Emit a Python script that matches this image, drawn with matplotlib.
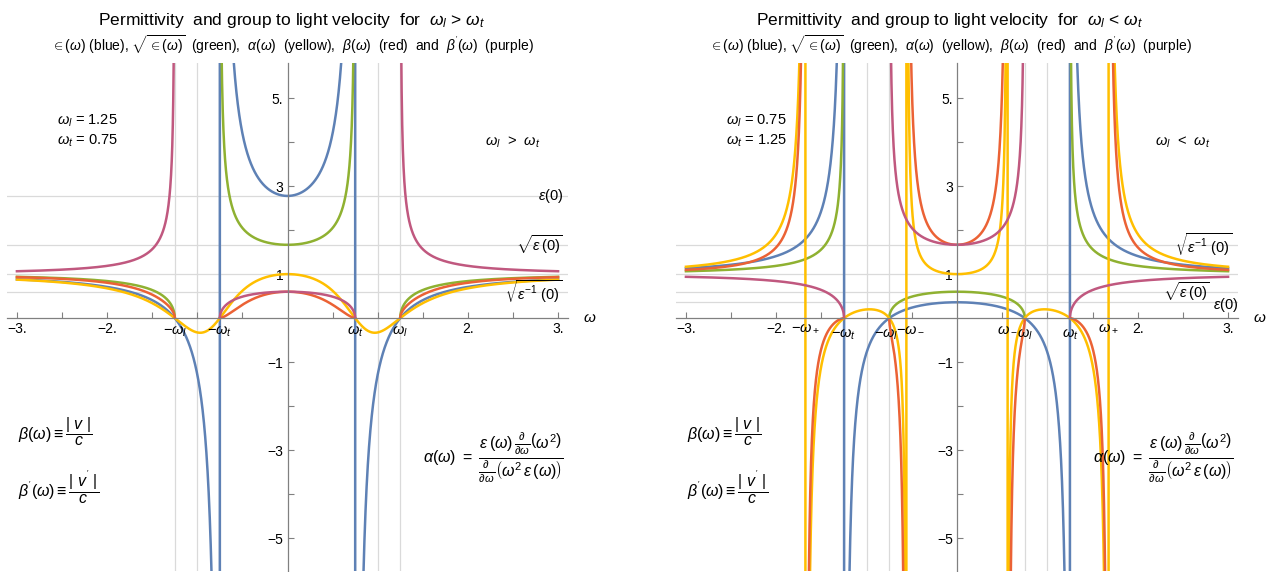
import numpy as np
import matplotlib
matplotlib.use("Agg")
import matplotlib.pyplot as plt

plt.rcParams["font.family"] = ["Liberation Sans", "DejaVu Sans"]
plt.rcParams["mathtext.fontset"] = "custom"
plt.rcParams["mathtext.rm"] = "Liberation Sans"
plt.rcParams["mathtext.it"] = "Liberation Sans:italic"
plt.rcParams["mathtext.bf"] = "Liberation Sans:bold"

# the two panels: longitudinal / transverse frequencies
omega_l = [1.25, 0.75]
omega_t = [0.75, 1.25]
relation = [">", "<"]

# omega sampled over the plot range
w = np.linspace(-3, 3, 4000)

x_ticks = [-3, -2.5, -2, -1.5, -1, -0.5, 0.5, 1, 1.5, 2, 2.5, 3]
x_labels = ["\u22123.", "", "\u22122.", "", "", "", "", "", "", "2.", "", "3."]
y_ticks = [-5, -4, -3, -2, -1, 1, 2, 3, 4, 5]
y_labels = ["\u22125", "", "\u22123", "", "\u22121", "1", "", "3", "", "5."]

BLUE = "#5E81B5"
GREEN = "#8FB131"
YELLOW = "#FFBF00"
RED = "#EB6235"
PURPLE = "#C0587F"
GRID = "#DADADA"
AXIS = "#808080"


def curves(wl, wt):
    u = w ** 2
    a, b = wl ** 2, wt ** 2
    with np.errstate(all="ignore"):
        eps = (u - a) / (u - b)
        n = np.sqrt(eps)
        alpha = (u - a) * (u - b) / (u ** 2 - 2 * b * u + a * b)
        beta = alpha / n
        beta_p = 1 / n
    return eps, n, alpha, beta, beta_p


def break_jumps(y):
    # no connecting line where the curve flips through infinity
    y = y.copy()
    flip = (np.sign(y[:-1]) != np.sign(y[1:])) & (np.abs(y[:-1]) + np.abs(y[1:]) > 20)
    y[1:][flip] = np.nan
    return y


fig = plt.figure(figsize=(12.68, 5.72), dpi=100)

ax_pos = [
    [7 / 1268, 1 / 572, 561 / 1268, 508 / 572],
    [676 / 1268, 1 / 572, 562 / 1268, 508 / 572],
]
title_x = [292, 950]

for i in range(2):
    wl, wt = omega_l[i], omega_t[i]
    ax = fig.add_axes(ax_pos[i])
    ax.set_xlim(-3.11, 3.11)
    ax.set_ylim(-5.75, 5.8)

    eps0 = wl ** 2 / wt ** 2
    for yv in [eps0, np.sqrt(eps0), 1, 1 / np.sqrt(eps0)]:
        ax.axhline(yv, color=GRID, lw=0.9, zorder=0)
    for xv in [-wl, -wt, -1, 1, wt, wl]:
        ax.axvline(xv, color=GRID, lw=0.9, zorder=0)

    eps, n, alpha, beta, beta_p = curves(wl, wt)
    ax.plot(w, eps, color=BLUE, lw=1.8)
    ax.plot(w, n, color=GREEN, lw=1.8)
    ax.plot(w, alpha, color=YELLOW, lw=1.8)
    ax.plot(w, break_jumps(beta), color=RED, lw=1.8)
    ax.plot(w, beta_p, color=PURPLE, lw=1.8)

    for s in ["top", "right"]:
        ax.spines[s].set_visible(False)
    for s in ["left", "bottom"]:
        ax.spines[s].set_position(("data", 0))
        ax.spines[s].set_color(AXIS)
        ax.spines[s].set_linewidth(0.9)
    ax.set_xticks(x_ticks)
    ax.set_xticklabels(x_labels)
    ax.set_yticks(y_ticks)
    ax.set_yticklabels(y_labels)
    ax.tick_params(direction="in", length=4, width=0.8, color=AXIS,
                   labelsize=10, pad=3)
    ax.patch.set_alpha(0)

    # omega labels on the axis
    if wl > wt:
        marks = [(-wl, r"$-\omega_l$", -0.32), (-wt, r"$-\omega_t$", -0.32),
                 (wt, r"$\omega_t$", -0.32), (wl, r"$\omega_l$", -0.32)]
    else:
        b = wt ** 2
        root = np.sqrt(b * b - wl ** 2 * b)
        wm, wp = np.sqrt(b - root), np.sqrt(b + root)
        marks = [(-wp, r"$-\omega_+$", -0.23), (-wt, r"$-\omega_t$", -0.39),
                 (-wl - 0.03, r"$-\omega_l$", -0.39), (-wm + 0.04, r"$-\omega_-$", -0.23),
                 (wm, r"$\omega_-$", -0.23), (wl, r"$\omega_l$", -0.39),
                 (wt, r"$\omega_t$", -0.39), (wp, r"$\omega_+$", -0.23)]
    for xv, lab, yv in marks:
        ax.text(xv, yv, lab, ha="center", va="center", fontsize=10.5)

    ax.text(3.35, 0.0, r"$\omega$", ha="center", va="center", fontsize=11)

    ax.text(-2.56, 4.48, r"$\omega_l$ = %.2f" % wl, fontsize=10.5,
            ha="left", va="center")
    ax.text(-2.56, 4.02, r"$\omega_t$ = %.2f" % wt, fontsize=10.5,
            ha="left", va="center")
    ax.text(2.5, 4.0, r"$\omega_l$  %s  $\omega_t$" % relation[i],
            fontsize=10.5, ha="center", va="center")

    if wl > wt:
        ax.text(3.06, eps0, r"$\epsilon(0)$", fontsize=10.5,
                ha="right", va="center")
        ax.text(3.05, np.sqrt(eps0), r"$\sqrt{\epsilon\,(0)}$", fontsize=10.5,
                ha="right", va="center")
        ax.text(3.05, 1 / np.sqrt(eps0), r"$\sqrt{\epsilon^{-1}\ (0)}$",
                fontsize=10.5, ha="right", va="center")
    else:
        ax.text(3.05, 1 / np.sqrt(eps0), r"$\sqrt{\epsilon^{-1}\ (0)}$",
                fontsize=10.5, ha="right", va="center")
        ax.text(2.80, np.sqrt(eps0), r"$\sqrt{\epsilon\,(0)}$", fontsize=10.5,
                ha="right", va="center")
        ax.text(2.83, eps0 - 0.07, r"$\epsilon(0)$", fontsize=10.5,
                ha="left", va="center")

    ax.text(-2.99, -2.57, r"$\beta(\omega) \equiv \dfrac{|\ v\ |}{c}$",
            fontsize=11.5, ha="left", va="center")
    ax.text(-2.99, -3.84, r"$\beta^{'}(\omega) \equiv \dfrac{|\ v^{'}\ |}{c}$",
            fontsize=11.5, ha="left", va="center")
    ax.text(1.5, -3.16,
            r"$\alpha(\omega)\ =\ \dfrac{\epsilon\,(\omega)\,\frac{\partial}{\partial\omega}\left(\omega^2\right)}"
            r"{\frac{\partial}{\partial\omega}\left(\omega^2\,\epsilon\,(\omega)\right)}$",
            fontsize=11.5, ha="left", va="center")

    fig.text(title_x[i] / 1268, 1 - 20 / 572,
             r"Permittivity  and group to light velocity  for  $\omega_l$ %s $\omega_t$" % relation[i],
             fontsize=12.5, ha="center", va="center")
    fig.text(title_x[i] / 1268, 1 - 45 / 572,
             r"$\in(\omega)$ (blue), $\sqrt{\in(\omega)}$  (green),  $\alpha(\omega)$  (yellow),  "
             r"$\beta(\omega)$  (red)  and  $\beta^{'}(\omega)$  (purple)",
             fontsize=10, ha="center", va="center")

fig.savefig("out.png", dpi=100)
